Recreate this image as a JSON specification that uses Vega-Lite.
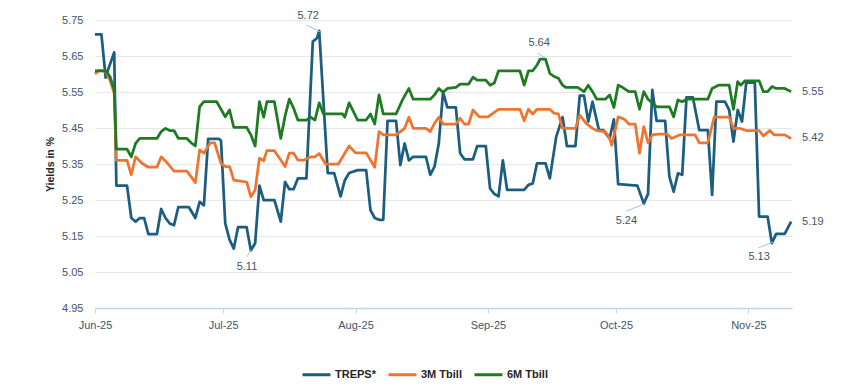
{
  "$schema": "https://vega.github.io/schema/vega-lite/v6.json",
  "width": 697,
  "height": 288,
  "autosize": {"type": "none"},
  "padding": {"left": 95, "top": 20, "right": 58, "bottom": 84},
  "background": "#ffffff",
  "config": {
    "font": "Liberation Sans",
    "view": {"stroke": null},
    "axis": {"labelFont": "Liberation Sans", "titleFont": "Liberation Sans"}
  },
  "datasets": {
    "series": [
      {"t":"2025-06-01T00:00","s":"TREPS*","v":5.71},
      {"t":"2025-06-02T12:00","s":"TREPS*","v":5.71},
      {"t":"2025-06-03T12:00","s":"TREPS*","v":5.59},
      {"t":"2025-06-04T00:00","s":"TREPS*","v":5.61},
      {"t":"2025-06-05T12:00","s":"TREPS*","v":5.66},
      {"t":"2025-06-06T00:00","s":"TREPS*","v":5.29},
      {"t":"2025-06-08T12:00","s":"TREPS*","v":5.29},
      {"t":"2025-06-09T12:00","s":"TREPS*","v":5.20},
      {"t":"2025-06-10T12:00","s":"TREPS*","v":5.19},
      {"t":"2025-06-11T12:00","s":"TREPS*","v":5.20},
      {"t":"2025-06-12T12:00","s":"TREPS*","v":5.20},
      {"t":"2025-06-13T12:00","s":"TREPS*","v":5.155},
      {"t":"2025-06-15T12:00","s":"TREPS*","v":5.155},
      {"t":"2025-06-16T12:00","s":"TREPS*","v":5.225},
      {"t":"2025-06-17T12:00","s":"TREPS*","v":5.20},
      {"t":"2025-06-18T12:00","s":"TREPS*","v":5.185},
      {"t":"2025-06-19T12:00","s":"TREPS*","v":5.18},
      {"t":"2025-06-20T12:00","s":"TREPS*","v":5.23},
      {"t":"2025-06-23T00:00","s":"TREPS*","v":5.23},
      {"t":"2025-06-24T12:00","s":"TREPS*","v":5.20},
      {"t":"2025-06-25T12:00","s":"TREPS*","v":5.245},
      {"t":"2025-06-26T12:00","s":"TREPS*","v":5.235},
      {"t":"2025-06-27T12:00","s":"TREPS*","v":5.42},
      {"t":"2025-06-30T00:00","s":"TREPS*","v":5.42},
      {"t":"2025-06-30T12:00","s":"TREPS*","v":5.415},
      {"t":"2025-07-01T12:00","s":"TREPS*","v":5.185},
      {"t":"2025-07-02T12:00","s":"TREPS*","v":5.14},
      {"t":"2025-07-03T12:00","s":"TREPS*","v":5.115},
      {"t":"2025-07-04T12:00","s":"TREPS*","v":5.175},
      {"t":"2025-07-06T12:00","s":"TREPS*","v":5.175},
      {"t":"2025-07-07T12:00","s":"TREPS*","v":5.11},
      {"t":"2025-07-08T12:00","s":"TREPS*","v":5.13},
      {"t":"2025-07-09T12:00","s":"TREPS*","v":5.29},
      {"t":"2025-07-10T12:00","s":"TREPS*","v":5.25},
      {"t":"2025-07-13T00:00","s":"TREPS*","v":5.25},
      {"t":"2025-07-14T12:00","s":"TREPS*","v":5.19},
      {"t":"2025-07-15T12:00","s":"TREPS*","v":5.30},
      {"t":"2025-07-16T12:00","s":"TREPS*","v":5.28},
      {"t":"2025-07-17T12:00","s":"TREPS*","v":5.28},
      {"t":"2025-07-18T12:00","s":"TREPS*","v":5.31},
      {"t":"2025-07-20T12:00","s":"TREPS*","v":5.31},
      {"t":"2025-07-22T00:00","s":"TREPS*","v":5.69},
      {"t":"2025-07-23T00:00","s":"TREPS*","v":5.70},
      {"t":"2025-07-23T12:00","s":"TREPS*","v":5.72},
      {"t":"2025-07-25T12:00","s":"TREPS*","v":5.325},
      {"t":"2025-07-27T00:00","s":"TREPS*","v":5.325},
      {"t":"2025-07-28T12:00","s":"TREPS*","v":5.26},
      {"t":"2025-07-29T12:00","s":"TREPS*","v":5.305},
      {"t":"2025-07-30T12:00","s":"TREPS*","v":5.325},
      {"t":"2025-08-01T12:00","s":"TREPS*","v":5.333},
      {"t":"2025-08-03T12:00","s":"TREPS*","v":5.333},
      {"t":"2025-08-04T12:00","s":"TREPS*","v":5.222},
      {"t":"2025-08-05T12:00","s":"TREPS*","v":5.20},
      {"t":"2025-08-06T12:00","s":"TREPS*","v":5.195},
      {"t":"2025-08-07T12:00","s":"TREPS*","v":5.195},
      {"t":"2025-08-08T12:00","s":"TREPS*","v":5.47},
      {"t":"2025-08-10T12:00","s":"TREPS*","v":5.47},
      {"t":"2025-08-11T12:00","s":"TREPS*","v":5.347},
      {"t":"2025-08-12T12:00","s":"TREPS*","v":5.407},
      {"t":"2025-08-13T12:00","s":"TREPS*","v":5.36},
      {"t":"2025-08-14T12:00","s":"TREPS*","v":5.37},
      {"t":"2025-08-17T12:00","s":"TREPS*","v":5.37},
      {"t":"2025-08-18T12:00","s":"TREPS*","v":5.32},
      {"t":"2025-08-19T12:00","s":"TREPS*","v":5.343},
      {"t":"2025-08-20T12:00","s":"TREPS*","v":5.407},
      {"t":"2025-08-21T12:00","s":"TREPS*","v":5.55},
      {"t":"2025-08-22T12:00","s":"TREPS*","v":5.507},
      {"t":"2025-08-24T12:00","s":"TREPS*","v":5.507},
      {"t":"2025-08-25T12:00","s":"TREPS*","v":5.38},
      {"t":"2025-08-26T12:00","s":"TREPS*","v":5.363},
      {"t":"2025-08-28T12:00","s":"TREPS*","v":5.363},
      {"t":"2025-08-29T12:00","s":"TREPS*","v":5.40},
      {"t":"2025-08-31T12:00","s":"TREPS*","v":5.40},
      {"t":"2025-09-01T12:00","s":"TREPS*","v":5.282},
      {"t":"2025-09-02T12:00","s":"TREPS*","v":5.267},
      {"t":"2025-09-03T12:00","s":"TREPS*","v":5.26},
      {"t":"2025-09-04T12:00","s":"TREPS*","v":5.36},
      {"t":"2025-09-05T12:00","s":"TREPS*","v":5.278},
      {"t":"2025-09-09T12:00","s":"TREPS*","v":5.278},
      {"t":"2025-09-10T12:00","s":"TREPS*","v":5.292},
      {"t":"2025-09-11T12:00","s":"TREPS*","v":5.296},
      {"t":"2025-09-12T12:00","s":"TREPS*","v":5.352},
      {"t":"2025-09-14T12:00","s":"TREPS*","v":5.352},
      {"t":"2025-09-15T12:00","s":"TREPS*","v":5.31},
      {"t":"2025-09-17T00:00","s":"TREPS*","v":5.426},
      {"t":"2025-09-18T12:00","s":"TREPS*","v":5.48},
      {"t":"2025-09-19T12:00","s":"TREPS*","v":5.40},
      {"t":"2025-09-21T12:00","s":"TREPS*","v":5.40},
      {"t":"2025-09-22T12:00","s":"TREPS*","v":5.54},
      {"t":"2025-09-23T12:00","s":"TREPS*","v":5.54},
      {"t":"2025-09-24T12:00","s":"TREPS*","v":5.468},
      {"t":"2025-09-25T12:00","s":"TREPS*","v":5.523},
      {"t":"2025-09-27T00:00","s":"TREPS*","v":5.444},
      {"t":"2025-09-28T00:00","s":"TREPS*","v":5.444},
      {"t":"2025-09-29T12:00","s":"TREPS*","v":5.421},
      {"t":"2025-09-30T12:00","s":"TREPS*","v":5.474},
      {"t":"2025-10-01T12:00","s":"TREPS*","v":5.294},
      {"t":"2025-10-06T00:00","s":"TREPS*","v":5.29},
      {"t":"2025-10-07T12:00","s":"TREPS*","v":5.24},
      {"t":"2025-10-08T12:00","s":"TREPS*","v":5.267},
      {"t":"2025-10-09T12:00","s":"TREPS*","v":5.556},
      {"t":"2025-10-10T12:00","s":"TREPS*","v":5.47},
      {"t":"2025-10-12T12:00","s":"TREPS*","v":5.47},
      {"t":"2025-10-13T12:00","s":"TREPS*","v":5.315},
      {"t":"2025-10-14T12:00","s":"TREPS*","v":5.273},
      {"t":"2025-10-15T12:00","s":"TREPS*","v":5.324},
      {"t":"2025-10-16T12:00","s":"TREPS*","v":5.32},
      {"t":"2025-10-17T12:00","s":"TREPS*","v":5.535},
      {"t":"2025-10-19T00:00","s":"TREPS*","v":5.535},
      {"t":"2025-10-20T12:00","s":"TREPS*","v":5.444},
      {"t":"2025-10-22T12:00","s":"TREPS*","v":5.444},
      {"t":"2025-10-23T12:00","s":"TREPS*","v":5.264},
      {"t":"2025-10-24T12:00","s":"TREPS*","v":5.523},
      {"t":"2025-10-26T12:00","s":"TREPS*","v":5.523},
      {"t":"2025-10-27T12:00","s":"TREPS*","v":5.50},
      {"t":"2025-10-28T12:00","s":"TREPS*","v":5.412},
      {"t":"2025-10-29T12:00","s":"TREPS*","v":5.50},
      {"t":"2025-10-30T12:00","s":"TREPS*","v":5.468},
      {"t":"2025-10-31T12:00","s":"TREPS*","v":5.576},
      {"t":"2025-11-02T12:00","s":"TREPS*","v":5.576},
      {"t":"2025-11-03T12:00","s":"TREPS*","v":5.204},
      {"t":"2025-11-05T12:00","s":"TREPS*","v":5.204},
      {"t":"2025-11-06T12:00","s":"TREPS*","v":5.13},
      {"t":"2025-11-07T12:00","s":"TREPS*","v":5.156},
      {"t":"2025-11-09T12:00","s":"TREPS*","v":5.156},
      {"t":"2025-11-11T00:00","s":"TREPS*","v":5.19},

      {"t":"2025-06-01T00:00","s":"3M Tbill","v":5.60},
      {"t":"2025-06-02T00:00","s":"3M Tbill","v":5.61},
      {"t":"2025-06-03T12:00","s":"3M Tbill","v":5.607},
      {"t":"2025-06-04T12:00","s":"3M Tbill","v":5.583},
      {"t":"2025-06-05T12:00","s":"3M Tbill","v":5.546},
      {"t":"2025-06-06T00:00","s":"3M Tbill","v":5.36},
      {"t":"2025-06-08T12:00","s":"3M Tbill","v":5.36},
      {"t":"2025-06-09T12:00","s":"3M Tbill","v":5.32},
      {"t":"2025-06-10T12:00","s":"3M Tbill","v":5.37},
      {"t":"2025-06-12T00:00","s":"3M Tbill","v":5.352},
      {"t":"2025-06-13T12:00","s":"3M Tbill","v":5.341},
      {"t":"2025-06-15T12:00","s":"3M Tbill","v":5.341},
      {"t":"2025-06-16T12:00","s":"3M Tbill","v":5.37},
      {"t":"2025-06-18T00:00","s":"3M Tbill","v":5.352},
      {"t":"2025-06-19T12:00","s":"3M Tbill","v":5.33},
      {"t":"2025-06-22T12:00","s":"3M Tbill","v":5.33},
      {"t":"2025-06-23T12:00","s":"3M Tbill","v":5.315},
      {"t":"2025-06-24T12:00","s":"3M Tbill","v":5.298},
      {"t":"2025-06-25T12:00","s":"3M Tbill","v":5.389},
      {"t":"2025-06-26T12:00","s":"3M Tbill","v":5.38},
      {"t":"2025-06-28T00:00","s":"3M Tbill","v":5.409},
      {"t":"2025-06-29T00:00","s":"3M Tbill","v":5.409},
      {"t":"2025-06-30T12:00","s":"3M Tbill","v":5.352},
      {"t":"2025-07-01T12:00","s":"3M Tbill","v":5.343},
      {"t":"2025-07-02T12:00","s":"3M Tbill","v":5.343},
      {"t":"2025-07-03T12:00","s":"3M Tbill","v":5.305},
      {"t":"2025-07-06T12:00","s":"3M Tbill","v":5.30},
      {"t":"2025-07-07T12:00","s":"3M Tbill","v":5.259},
      {"t":"2025-07-08T12:00","s":"3M Tbill","v":5.278},
      {"t":"2025-07-09T12:00","s":"3M Tbill","v":5.366},
      {"t":"2025-07-10T12:00","s":"3M Tbill","v":5.359},
      {"t":"2025-07-11T06:00","s":"3M Tbill","v":5.387},
      {"t":"2025-07-13T00:00","s":"3M Tbill","v":5.387},
      {"t":"2025-07-14T12:00","s":"3M Tbill","v":5.361},
      {"t":"2025-07-15T12:00","s":"3M Tbill","v":5.343},
      {"t":"2025-07-16T12:00","s":"3M Tbill","v":5.38},
      {"t":"2025-07-17T12:00","s":"3M Tbill","v":5.38},
      {"t":"2025-07-18T12:00","s":"3M Tbill","v":5.361},
      {"t":"2025-07-20T00:00","s":"3M Tbill","v":5.361},
      {"t":"2025-07-21T12:00","s":"3M Tbill","v":5.37},
      {"t":"2025-07-22T12:00","s":"3M Tbill","v":5.37},
      {"t":"2025-07-23T12:00","s":"3M Tbill","v":5.379},
      {"t":"2025-07-25T00:00","s":"3M Tbill","v":5.35},
      {"t":"2025-07-28T00:00","s":"3M Tbill","v":5.35},
      {"t":"2025-07-29T00:00","s":"3M Tbill","v":5.37},
      {"t":"2025-07-30T12:00","s":"3M Tbill","v":5.40},
      {"t":"2025-08-01T00:00","s":"3M Tbill","v":5.381},
      {"t":"2025-08-03T12:00","s":"3M Tbill","v":5.381},
      {"t":"2025-08-04T12:00","s":"3M Tbill","v":5.361},
      {"t":"2025-08-05T12:00","s":"3M Tbill","v":5.341},
      {"t":"2025-08-06T12:00","s":"3M Tbill","v":5.44},
      {"t":"2025-08-07T12:00","s":"3M Tbill","v":5.431},
      {"t":"2025-08-10T12:00","s":"3M Tbill","v":5.431},
      {"t":"2025-08-12T12:00","s":"3M Tbill","v":5.449},
      {"t":"2025-08-13T12:00","s":"3M Tbill","v":5.48},
      {"t":"2025-08-14T12:00","s":"3M Tbill","v":5.449},
      {"t":"2025-08-17T12:00","s":"3M Tbill","v":5.449},
      {"t":"2025-08-18T12:00","s":"3M Tbill","v":5.44},
      {"t":"2025-08-19T12:00","s":"3M Tbill","v":5.463},
      {"t":"2025-08-20T12:00","s":"3M Tbill","v":5.48},
      {"t":"2025-08-21T12:00","s":"3M Tbill","v":5.461},
      {"t":"2025-08-24T12:00","s":"3M Tbill","v":5.461},
      {"t":"2025-08-25T12:00","s":"3M Tbill","v":5.477},
      {"t":"2025-08-26T12:00","s":"3M Tbill","v":5.461},
      {"t":"2025-08-27T12:00","s":"3M Tbill","v":5.461},
      {"t":"2025-08-28T12:00","s":"3M Tbill","v":5.50},
      {"t":"2025-08-30T00:00","s":"3M Tbill","v":5.481},
      {"t":"2025-09-01T00:00","s":"3M Tbill","v":5.481},
      {"t":"2025-09-02T00:00","s":"3M Tbill","v":5.489},
      {"t":"2025-09-03T12:00","s":"3M Tbill","v":5.502},
      {"t":"2025-09-08T12:00","s":"3M Tbill","v":5.502},
      {"t":"2025-09-09T12:00","s":"3M Tbill","v":5.47},
      {"t":"2025-09-10T12:00","s":"3M Tbill","v":5.502},
      {"t":"2025-09-11T12:00","s":"3M Tbill","v":5.489},
      {"t":"2025-09-12T12:00","s":"3M Tbill","v":5.502},
      {"t":"2025-09-15T12:00","s":"3M Tbill","v":5.502},
      {"t":"2025-09-16T12:00","s":"3M Tbill","v":5.491},
      {"t":"2025-09-17T12:00","s":"3M Tbill","v":5.489},
      {"t":"2025-09-18T12:00","s":"3M Tbill","v":5.449},
      {"t":"2025-09-21T12:00","s":"3M Tbill","v":5.449},
      {"t":"2025-09-22T12:00","s":"3M Tbill","v":5.486},
      {"t":"2025-09-24T00:00","s":"3M Tbill","v":5.463},
      {"t":"2025-09-25T12:00","s":"3M Tbill","v":5.449},
      {"t":"2025-09-26T12:00","s":"3M Tbill","v":5.443},
      {"t":"2025-09-28T12:00","s":"3M Tbill","v":5.44},
      {"t":"2025-09-29T12:00","s":"3M Tbill","v":5.421},
      {"t":"2025-09-30T00:00","s":"3M Tbill","v":5.402},
      {"t":"2025-10-01T12:00","s":"3M Tbill","v":5.481},
      {"t":"2025-10-03T00:00","s":"3M Tbill","v":5.474},
      {"t":"2025-10-04T00:00","s":"3M Tbill","v":5.461},
      {"t":"2025-10-05T12:00","s":"3M Tbill","v":5.461},
      {"t":"2025-10-06T12:00","s":"3M Tbill","v":5.38},
      {"t":"2025-10-07T12:00","s":"3M Tbill","v":5.454},
      {"t":"2025-10-08T12:00","s":"3M Tbill","v":5.409},
      {"t":"2025-10-09T12:00","s":"3M Tbill","v":5.431},
      {"t":"2025-10-11T00:00","s":"3M Tbill","v":5.433},
      {"t":"2025-10-13T00:00","s":"3M Tbill","v":5.433},
      {"t":"2025-10-14T00:00","s":"3M Tbill","v":5.421},
      {"t":"2025-10-16T00:00","s":"3M Tbill","v":5.431},
      {"t":"2025-10-19T12:00","s":"3M Tbill","v":5.431},
      {"t":"2025-10-20T12:00","s":"3M Tbill","v":5.409},
      {"t":"2025-10-22T12:00","s":"3M Tbill","v":5.409},
      {"t":"2025-10-24T00:00","s":"3M Tbill","v":5.48},
      {"t":"2025-10-27T12:00","s":"3M Tbill","v":5.48},
      {"t":"2025-10-28T12:00","s":"3M Tbill","v":5.449},
      {"t":"2025-10-30T00:00","s":"3M Tbill","v":5.449},
      {"t":"2025-10-31T12:00","s":"3M Tbill","v":5.443},
      {"t":"2025-11-03T12:00","s":"3M Tbill","v":5.443},
      {"t":"2025-11-04T12:00","s":"3M Tbill","v":5.428},
      {"t":"2025-11-06T00:00","s":"3M Tbill","v":5.443},
      {"t":"2025-11-07T00:00","s":"3M Tbill","v":5.431},
      {"t":"2025-11-09T12:00","s":"3M Tbill","v":5.431},
      {"t":"2025-11-11T00:00","s":"3M Tbill","v":5.421},

      {"t":"2025-06-01T00:00","s":"6M Tbill","v":5.609},
      {"t":"2025-06-03T12:00","s":"6M Tbill","v":5.609},
      {"t":"2025-06-04T12:00","s":"6M Tbill","v":5.593},
      {"t":"2025-06-05T12:00","s":"6M Tbill","v":5.556},
      {"t":"2025-06-06T00:00","s":"6M Tbill","v":5.391},
      {"t":"2025-06-08T12:00","s":"6M Tbill","v":5.391},
      {"t":"2025-06-09T12:00","s":"6M Tbill","v":5.37},
      {"t":"2025-06-10T12:00","s":"6M Tbill","v":5.407},
      {"t":"2025-06-11T12:00","s":"6M Tbill","v":5.421},
      {"t":"2025-06-15T12:00","s":"6M Tbill","v":5.421},
      {"t":"2025-06-16T12:00","s":"6M Tbill","v":5.44},
      {"t":"2025-06-17T12:00","s":"6M Tbill","v":5.449},
      {"t":"2025-06-18T12:00","s":"6M Tbill","v":5.443},
      {"t":"2025-06-19T12:00","s":"6M Tbill","v":5.443},
      {"t":"2025-06-20T12:00","s":"6M Tbill","v":5.421},
      {"t":"2025-06-22T12:00","s":"6M Tbill","v":5.421},
      {"t":"2025-06-23T12:00","s":"6M Tbill","v":5.409},
      {"t":"2025-06-24T12:00","s":"6M Tbill","v":5.40},
      {"t":"2025-06-25T12:00","s":"6M Tbill","v":5.509},
      {"t":"2025-06-26T12:00","s":"6M Tbill","v":5.523},
      {"t":"2025-06-29T12:00","s":"6M Tbill","v":5.523},
      {"t":"2025-06-30T12:00","s":"6M Tbill","v":5.502},
      {"t":"2025-07-01T12:00","s":"6M Tbill","v":5.481},
      {"t":"2025-07-02T12:00","s":"6M Tbill","v":5.50},
      {"t":"2025-07-03T12:00","s":"6M Tbill","v":5.452},
      {"t":"2025-07-06T12:00","s":"6M Tbill","v":5.452},
      {"t":"2025-07-07T12:00","s":"6M Tbill","v":5.431},
      {"t":"2025-07-08T12:00","s":"6M Tbill","v":5.40},
      {"t":"2025-07-09T12:00","s":"6M Tbill","v":5.523},
      {"t":"2025-07-10T12:00","s":"6M Tbill","v":5.48},
      {"t":"2025-07-11T06:00","s":"6M Tbill","v":5.523},
      {"t":"2025-07-13T00:00","s":"6M Tbill","v":5.523},
      {"t":"2025-07-14T12:00","s":"6M Tbill","v":5.421},
      {"t":"2025-07-15T12:00","s":"6M Tbill","v":5.483},
      {"t":"2025-07-16T12:00","s":"6M Tbill","v":5.53},
      {"t":"2025-07-17T12:00","s":"6M Tbill","v":5.505},
      {"t":"2025-07-18T12:00","s":"6M Tbill","v":5.472},
      {"t":"2025-07-20T12:00","s":"6M Tbill","v":5.472},
      {"t":"2025-07-21T12:00","s":"6M Tbill","v":5.48},
      {"t":"2025-07-22T12:00","s":"6M Tbill","v":5.472},
      {"t":"2025-07-23T12:00","s":"6M Tbill","v":5.52},
      {"t":"2025-07-24T12:00","s":"6M Tbill","v":5.489},
      {"t":"2025-07-29T00:00","s":"6M Tbill","v":5.489},
      {"t":"2025-07-29T12:00","s":"6M Tbill","v":5.48},
      {"t":"2025-07-30T12:00","s":"6M Tbill","v":5.52},
      {"t":"2025-08-01T12:00","s":"6M Tbill","v":5.472},
      {"t":"2025-08-03T12:00","s":"6M Tbill","v":5.472},
      {"t":"2025-08-04T12:00","s":"6M Tbill","v":5.489},
      {"t":"2025-08-05T12:00","s":"6M Tbill","v":5.461},
      {"t":"2025-08-06T12:00","s":"6M Tbill","v":5.542},
      {"t":"2025-08-07T12:00","s":"6M Tbill","v":5.489},
      {"t":"2025-08-10T12:00","s":"6M Tbill","v":5.489},
      {"t":"2025-08-12T00:00","s":"6M Tbill","v":5.528},
      {"t":"2025-08-13T12:00","s":"6M Tbill","v":5.56},
      {"t":"2025-08-14T12:00","s":"6M Tbill","v":5.53},
      {"t":"2025-08-18T12:00","s":"6M Tbill","v":5.53},
      {"t":"2025-08-19T12:00","s":"6M Tbill","v":5.542},
      {"t":"2025-08-20T12:00","s":"6M Tbill","v":5.56},
      {"t":"2025-08-21T12:00","s":"6M Tbill","v":5.549},
      {"t":"2025-08-22T12:00","s":"6M Tbill","v":5.56},
      {"t":"2025-08-24T12:00","s":"6M Tbill","v":5.563},
      {"t":"2025-08-25T12:00","s":"6M Tbill","v":5.572},
      {"t":"2025-08-27T12:00","s":"6M Tbill","v":5.572},
      {"t":"2025-08-28T12:00","s":"6M Tbill","v":5.591},
      {"t":"2025-08-29T12:00","s":"6M Tbill","v":5.583},
      {"t":"2025-08-31T12:00","s":"6M Tbill","v":5.583},
      {"t":"2025-09-01T12:00","s":"6M Tbill","v":5.569},
      {"t":"2025-09-02T12:00","s":"6M Tbill","v":5.575},
      {"t":"2025-09-03T12:00","s":"6M Tbill","v":5.609},
      {"t":"2025-09-08T12:00","s":"6M Tbill","v":5.609},
      {"t":"2025-09-09T12:00","s":"6M Tbill","v":5.569},
      {"t":"2025-09-10T12:00","s":"6M Tbill","v":5.609},
      {"t":"2025-09-11T12:00","s":"6M Tbill","v":5.609},
      {"t":"2025-09-12T12:00","s":"6M Tbill","v":5.625},
      {"t":"2025-09-13T05:00","s":"6M Tbill","v":5.641},
      {"t":"2025-09-14T12:00","s":"6M Tbill","v":5.641},
      {"t":"2025-09-15T12:00","s":"6M Tbill","v":5.602},
      {"t":"2025-09-16T12:00","s":"6M Tbill","v":5.593},
      {"t":"2025-09-17T12:00","s":"6M Tbill","v":5.588},
      {"t":"2025-09-18T12:00","s":"6M Tbill","v":5.569},
      {"t":"2025-09-19T05:00","s":"6M Tbill","v":5.563},
      {"t":"2025-09-22T00:00","s":"6M Tbill","v":5.563},
      {"t":"2025-09-23T12:00","s":"6M Tbill","v":5.551},
      {"t":"2025-09-24T12:00","s":"6M Tbill","v":5.569},
      {"t":"2025-09-25T12:00","s":"6M Tbill","v":5.551},
      {"t":"2025-09-26T12:00","s":"6M Tbill","v":5.53},
      {"t":"2025-09-28T12:00","s":"6M Tbill","v":5.53},
      {"t":"2025-09-29T12:00","s":"6M Tbill","v":5.542},
      {"t":"2025-09-30T12:00","s":"6M Tbill","v":5.507},
      {"t":"2025-10-01T12:00","s":"6M Tbill","v":5.569},
      {"t":"2025-10-02T12:00","s":"6M Tbill","v":5.563},
      {"t":"2025-10-04T00:00","s":"6M Tbill","v":5.551},
      {"t":"2025-10-05T12:00","s":"6M Tbill","v":5.551},
      {"t":"2025-10-06T12:00","s":"6M Tbill","v":5.502},
      {"t":"2025-10-07T12:00","s":"6M Tbill","v":5.551},
      {"t":"2025-10-08T12:00","s":"6M Tbill","v":5.53},
      {"t":"2025-10-10T12:00","s":"6M Tbill","v":5.509},
      {"t":"2025-10-13T12:00","s":"6M Tbill","v":5.509},
      {"t":"2025-10-14T12:00","s":"6M Tbill","v":5.481},
      {"t":"2025-10-15T12:00","s":"6M Tbill","v":5.528},
      {"t":"2025-10-16T12:00","s":"6M Tbill","v":5.523},
      {"t":"2025-10-17T12:00","s":"6M Tbill","v":5.53},
      {"t":"2025-10-22T12:00","s":"6M Tbill","v":5.53},
      {"t":"2025-10-23T12:00","s":"6M Tbill","v":5.56},
      {"t":"2025-10-25T00:00","s":"6M Tbill","v":5.569},
      {"t":"2025-10-27T12:00","s":"6M Tbill","v":5.569},
      {"t":"2025-10-28T12:00","s":"6M Tbill","v":5.502},
      {"t":"2025-10-29T12:00","s":"6M Tbill","v":5.579},
      {"t":"2025-10-30T05:00","s":"6M Tbill","v":5.569},
      {"t":"2025-10-31T05:00","s":"6M Tbill","v":5.581},
      {"t":"2025-11-03T12:00","s":"6M Tbill","v":5.581},
      {"t":"2025-11-04T12:00","s":"6M Tbill","v":5.551},
      {"t":"2025-11-05T12:00","s":"6M Tbill","v":5.551},
      {"t":"2025-11-06T12:00","s":"6M Tbill","v":5.565},
      {"t":"2025-11-07T12:00","s":"6M Tbill","v":5.56},
      {"t":"2025-11-09T12:00","s":"6M Tbill","v":5.56},
      {"t":"2025-11-11T00:00","s":"6M Tbill","v":5.551}
    ],
    "ann": [
      {"lab":"5.72","t":"2025-07-20T22:00","v":5.761,"t1":"2025-07-20T14:00","v1":5.736,"t2":"2025-07-23T17:00","v2":5.717},
      {"lab":"5.11","t":"2025-07-06T14:00","v":5.064,"t1":"2025-07-06T14:00","v1":5.092,"t2":"2025-07-07T12:00","v2":5.111},
      {"lab":"5.64","t":"2025-09-13T00:00","v":5.686,"t1":"2025-09-12T17:00","v1":5.658,"t2":"2025-09-14T10:00","v2":5.644},
      {"lab":"5.24","t":"2025-10-03T10:00","v":5.192,"t1":"2025-10-03T10:00","v1":5.219,"t2":"2025-10-07T14:00","v2":5.239},
      {"lab":"5.13","t":"2025-11-03T12:00","v":5.092,"t1":"2025-11-03T07:00","v1":5.117,"t2":"2025-11-06T19:00","v2":5.133}
    ],
    "ends": [
      {"lab":"5.55","t":"2025-11-11T00:00","v":5.551},
      {"lab":"5.42","t":"2025-11-11T00:00","v":5.421},
      {"lab":"5.19","t":"2025-11-11T00:00","v":5.19}
    ]
  },
  "layer": [
    {
      "data": {"name": "series"},
      "mark": {"type": "line", "strokeWidth": 2.75, "strokeJoin": "round", "clip": false},
      "encoding": {
        "x": {
          "field": "t", "type": "temporal",
          "scale": {"domain": [{"year": 2025, "month": 6, "date": 1}, {"year": 2025, "month": 11, "date": 11, "hours": 5}], "nice": false},
          "axis": {
            "title": null, "format": "%b-%y", "grid": false,
            "values": [{"year":2025,"month":6,"date":1},{"year":2025,"month":7,"date":1},{"year":2025,"month":8,"date":1},{"year":2025,"month":9,"date":1},{"year":2025,"month":10,"date":1},{"year":2025,"month":11,"date":1}],
            "domainColor": "#BDD7EE", "domainWidth": 1.5, "tickColor": "#BDD7EE", "tickSize": 5, "tickWidth": 1,
            "labelColor": "#44546A", "labelFontSize": 11, "labelPadding": 6, "labelFlush": false
          }
        },
        "y": {
          "field": "v", "type": "quantitative",
          "scale": {"domain": [4.95, 5.75], "nice": false, "zero": false},
          "axis": {
            "title": "Yields in %", "titleFontSize": 10.5, "titleFontWeight": "bold", "titleColor": "#262626", "titlePadding": 6,
            "values": [4.95, 5.05, 5.15, 5.25, 5.35, 5.45, 5.55, 5.65, 5.75],
            "tickCount": 12, "labelOverlap": false,
            "format": ".2f", "domain": false, "ticks": false,
            "gridColor": "#E7E7E7", "gridWidth": 1,
            "labelColor": "#44546A", "labelFontSize": 11, "labelPadding": 12
          }
        },
        "color": {
          "field": "s", "type": "nominal",
          "scale": {"domain": ["TREPS*", "3M Tbill", "6M Tbill"], "range": ["#1B5E7F", "#EE7430", "#1E7B22"]},
          "legend": {
            "orient": "none", "legendX": 206, "legendY": 339, "direction": "horizontal", "title": null, "padding": 0,
            "symbolType": "stroke", "symbolSize": 784, "symbolStrokeWidth": 3,
            "labelFontWeight": "bold", "labelFontSize": 11, "labelColor": "#262626", "labelOffset": 3,
            "columnPadding": 6
          }
        }
      }
    },
    {
      "data": {"name": "ann"},
      "mark": {"type": "rule", "color": "#9DC3E6", "strokeWidth": 1},
      "encoding": {
        "x": {"field": "t1", "type": "temporal"},
        "y": {"field": "v1", "type": "quantitative"},
        "x2": {"field": "t2"},
        "y2": {"field": "v2"}
      }
    },
    {
      "data": {"name": "ann"},
      "mark": {"type": "text", "fontSize": 11, "color": "#44546A", "align": "center", "baseline": "middle"},
      "encoding": {
        "x": {"field": "t", "type": "temporal"},
        "y": {"field": "v", "type": "quantitative"},
        "text": {"field": "lab"}
      }
    },
    {
      "data": {"name": "ends"},
      "mark": {"type": "text", "fontSize": 11, "color": "#44546A", "align": "left", "baseline": "middle", "dx": 11},
      "encoding": {
        "x": {"field": "t", "type": "temporal"},
        "y": {"field": "v", "type": "quantitative"},
        "text": {"field": "lab"}
      }
    }
  ]
}
